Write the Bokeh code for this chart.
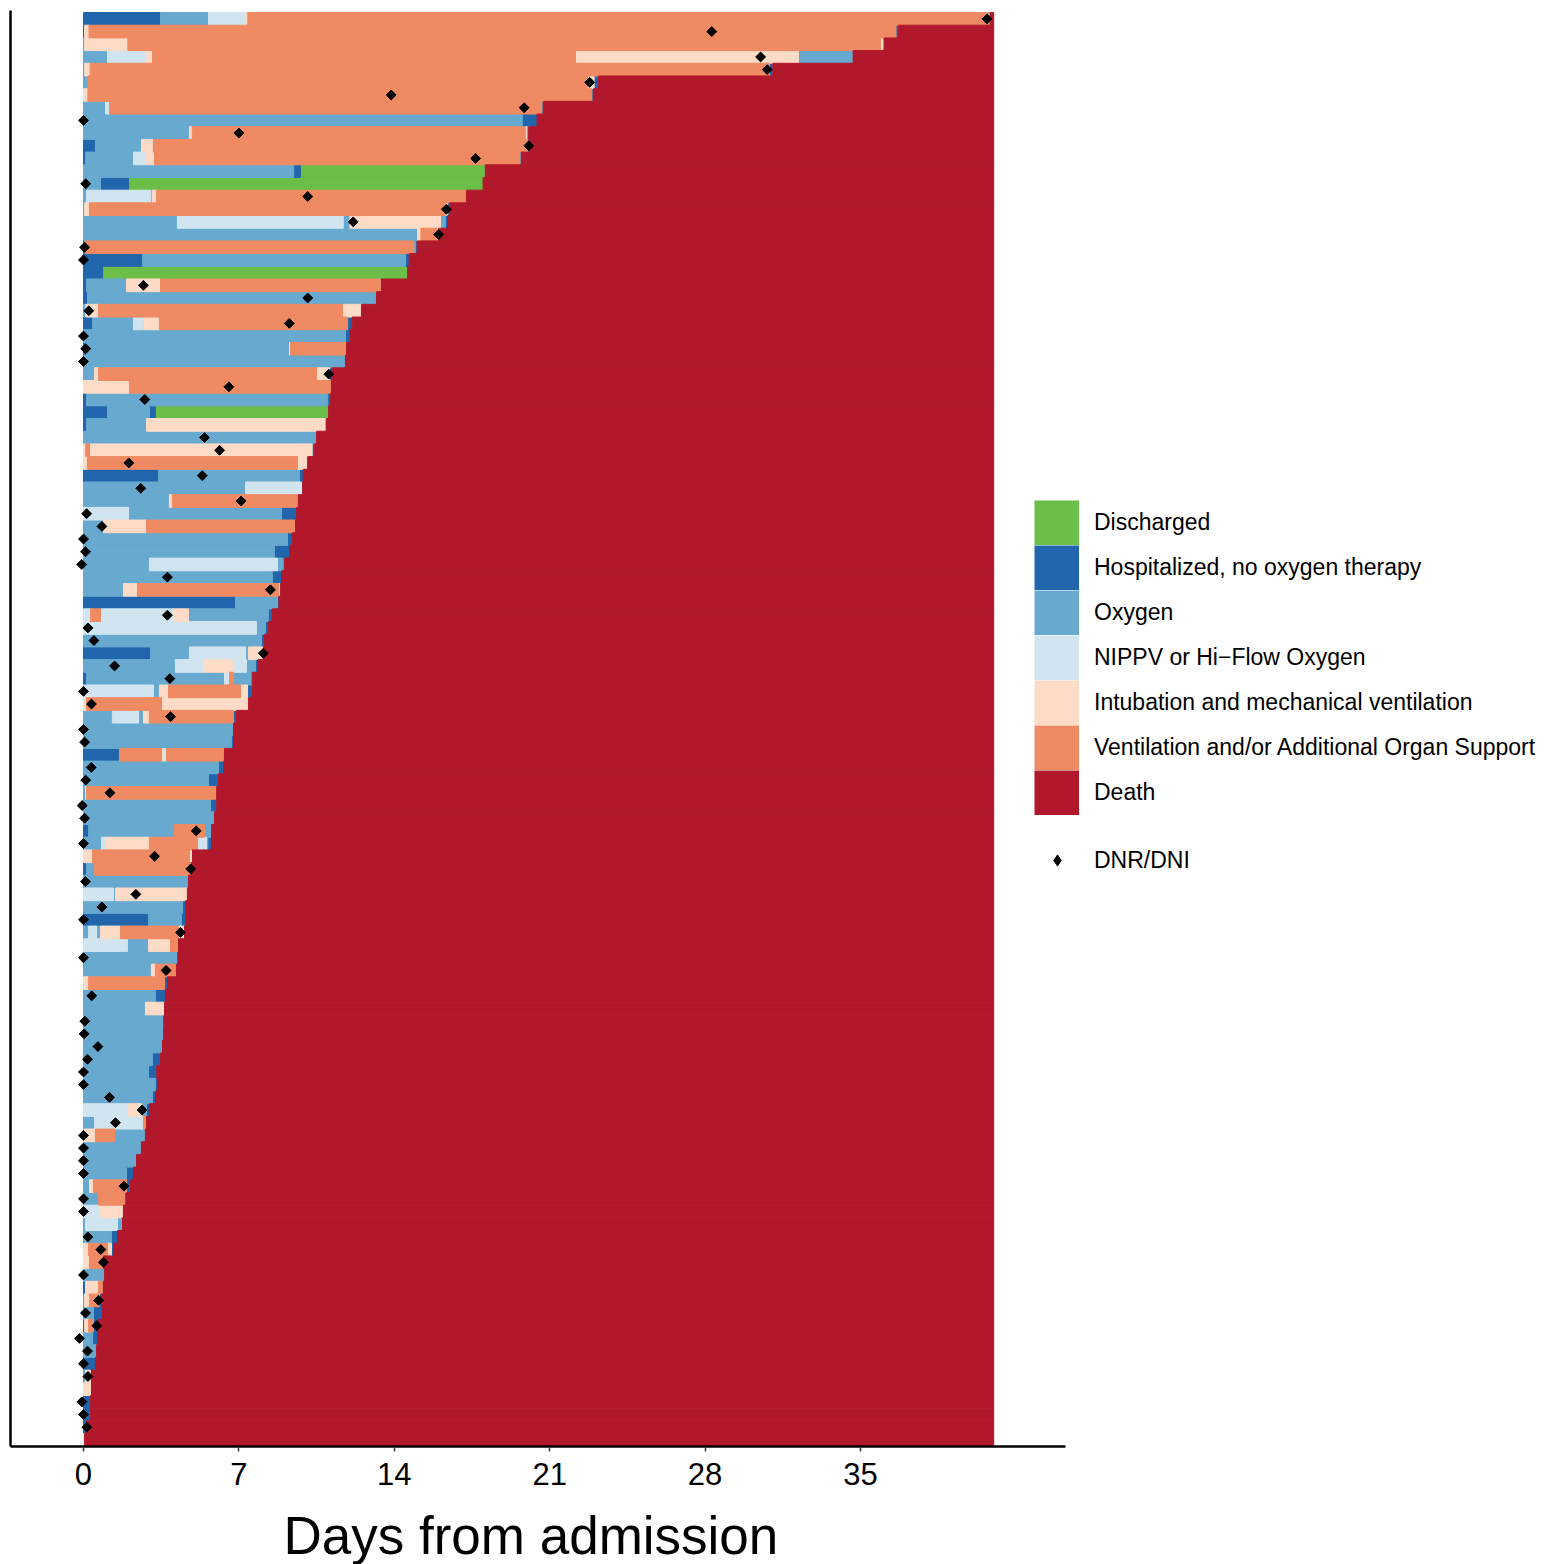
import math
from bokeh.plotting import figure
from bokeh.models import (Range1d, FixedTicker, Legend, LegendItem, ColumnDataSource, Title,
                          LinearAxis)
from bokeh.embed import file_html
from bokeh.resources import INLINE

FONT = "Liberation Sans"

# ---------------- data ----------------
STATE_CODES = ["D", "H", "O", "N", "I", "V", "X"]
STATE_LABELS = ["Discharged", "Hospitalized, no oxygen therapy", "Oxygen",
                "NIPPV or Hi\u2212Flow Oxygen", "Intubation and mechanical ventilation",
                "Ventilation and/or Additional Organ Support", "Death"]
STATE_COLORS = ["#6BBE47", "#2166AC", "#67A9CF", "#D1E5F0", "#FDDBC7", "#EF8A62", "#B2182B"]

FOLLOW_UP_END = 41.0
TICKS = [0, 7, 14, 21, 28, 35]

# state sequence of each patient (top to bottom); death follows last state until follow-up end
row_states = [
    "HONIVO", "HIVH", "OIVIO", "ONIVIO", "OIVH", "OVIH", "IVH", "ONVH", "OH", "OIVIO",
    "HOIVO", "HONIVO", "OHD", "OHD", "ONOIV", "OIVIH", "ONOIOH", "OIVI", "HVOH", "HOH",
    "HD", "HOIVH", "HOH", "OIVI", "HONOIVH", "OH", "HOIV", "OH", "OIVIH", "IV",
    "HOH", "HOHD", "HOI", "O", "IVIH", "IVIO", "HOH", "ONH", "OIV", "NOH",
    "OIV", "OH", "OH", "ONOH", "OH", "OIVI", "HOH", "NVNIOH", "NOH", "OH",
    "HONOIH", "ONINOH", "HONVO", "NOIVIH", "IVI", "ONOIVH", "OH", "OH", "HVINV", "OH",
    "OH", "ONV", "OH", "O", "HOVO", "ONIVNOH", "IVI", "HOV", "OH", "NOI",
    "OH", "HOH", "ONOIVI", "NOIV", "OH", "OIVH", "IVH", "OH", "OI", "OH",
    "OH", "O", "OH", "OH", "OH", "OH", "NIOH", "ONV", "IVO", "O",
    "O", "OH", "OIVH", "OVH", "NIH", "ONOV", "OH", "IVIH", "IV", "O",
    "HIVH", "OIVH", "OH", "HIVH", "OH", "O", "H", "OIH", "I", "H",
    "H", "H", "I",
]
# day at which each of those states ends
row_ends = [
    [3.47, 5.63, 7.30, 7.4, 40.75, 40.85], [0.05, 0.25, 36.6, 36.7], [0.05, 2.0, 35.9, 36.0, 36.07],
    [1.08, 2.84, 3.11, 22.16, 32.2, 34.67], [0.05, 0.3, 30.9, 31.05], [0.2, 22.7, 23.0, 23.2],
    [0.2, 22.9, 22.97], [0.99, 1.17, 20.65, 20.73], [19.76, 20.43], [4.77, 4.9, 19.9, 19.95, 20.05],
    [0.54, 2.61, 3.15, 20.0, 20.07], [0.1, 2.25, 2.81, 3.2, 19.65, 19.72], [9.47, 9.77, 18.1],
    [0.77, 2.03, 18.0], [0.14, 3.03, 3.1, 3.29, 17.25], [0.05, 0.27, 16.3, 16.4, 16.5],
    [4.23, 11.7, 12.0, 16.08, 16.3, 16.4], [15.05, 15.2, 15.93, 16.0], [0.07, 14.88, 14.95, 15.03],
    [2.66, 14.5, 14.67],
    [0.86, 14.6], [0.14, 1.94, 3.47, 13.38, 13.43], [0.18, 13.15, 13.2], [0.1, 0.68, 11.67, 12.52],
    [0.41, 2.25, 2.7, 2.75, 3.42, 11.9, 12.1], [11.8, 12.0], [0.1, 9.28, 9.33, 11.85], [11.76, 11.8],
    [0.5, 0.68, 10.5, 11.08, 11.2], [2.07, 11.17],
    [0.14, 11.0, 11.13], [1.08, 2.97, 3.24, 11.04], [0.14, 2.84, 10.93], [10.5], [0.1, 0.27, 10.3, 10.4],
    [0.18, 9.64, 10.05, 10.1], [3.38, 9.73, 9.9], [7.3, 9.82, 9.87], [3.87, 4.0, 9.68], [2.03, 8.92, 9.6],
    [0.9, 2.84, 9.55], [9.19, 9.41], [8.6, 9.28], [2.97, 8.74, 9.0, 9.05], [8.51, 8.92],
    [1.8, 2.43, 8.78, 8.87], [6.85, 8.74, 8.8], [0.32, 0.77, 4.1, 4.73, 8.33, 8.51], [7.79, 8.2, 8.33],
    [8.02, 8.15],
    [3.02, 4.77, 7.3, 7.43, 8.06, 8.15], [4.14, 5.41, 6.71, 7.34, 7.75, 7.85], [0.14, 6.35, 6.58, 6.76, 7.6],
    [3.15, 3.42, 3.83, 7.07, 7.39, 7.61], [0.14, 3.51, 7.43], [1.3, 2.48, 2.7, 2.97, 6.76, 6.89],
    [6.71, 6.76], [6.67, 6.76], [1.62, 3.51, 3.6, 3.74, 6.35], [6.08, 6.31],
    [5.63, 6.08], [0.09, 0.14, 6.0], [5.72, 6.0], [5.9], [0.23, 4.1, 5.45, 5.77],
    [0.81, 1.04, 2.97, 5.14, 5.54, 5.6, 5.77], [0.41, 4.77, 4.91], [0.14, 0.5, 4.86], [4.68, 4.73],
    [1.35, 1.44, 4.68],
    [4.46, 4.6], [2.93, 4.41, 4.6], [0.23, 0.59, 0.77, 1.67, 4.28, 4.55], [1.98, 2.93, 3.92, 4.28],
    [4.19, 4.28], [3.06, 3.24, 4.14, 4.19], [0.23, 3.65, 3.78], [3.24, 3.69], [2.79, 3.65], [3.56, 3.65],
    [3.56, 3.62], [3.56], [3.11, 3.47], [2.93, 3.3], [3.24, 3.33], [3.11, 3.24], [2.03, 2.61, 2.84, 2.97],
    [0.5, 2.7, 2.84], [0.54, 1.4, 2.79], [2.61],
    [2.39], [1.94, 2.25], [0.27, 0.45, 1.94, 2.12], [0.68, 1.85, 1.94], [0.77, 1.76, 1.8],
    [0.09, 1.53, 1.71, 1.76], [1.26, 1.53], [0.23, 1.08, 1.26, 1.35], [0.27, 0.9], [0.95],
    [0.09, 0.68, 0.86, 0.9], [0.05, 0.27, 0.72, 0.81], [0.45, 0.86], [0.05, 0.23, 0.45, 0.63],
    [0.41, 0.63], [0.59], [0.54], [0.09, 0.32, 0.36], [0.36], [0.32],
    [0.32], [0.14], [0.05],
]

# DNR/DNI order: patient row (1 = top) and day
dnr_rows = [1, 2, 4, 5, 6, 7, 8, 9, 10, 11, 12, 14, 15, 16, 17, 18, 19, 20, 22, 23, 24, 25, 26, 27, 28,
            29, 30, 31, 34, 35, 36, 37, 38, 39, 40, 41, 42, 43, 44, 45, 46, 48, 49, 50, 51, 52, 53, 54,
            55, 56, 57, 58, 60, 61, 62, 63, 64, 65, 66, 67, 68, 69, 70, 71, 72, 73, 75, 76, 78, 80, 81,
            82, 83, 84, 85, 86, 87, 88, 89, 90, 91, 92, 93, 94, 95, 97, 98, 99, 100, 102, 103, 104,
            105, 106, 107, 108, 110, 111, 112]
dnr_days = [40.7, 28.3, 30.5, 30.8, 22.8, 13.86, 19.85, 0.0, 7.0, 20.06, 17.66, 0.1, 10.1, 16.35, 12.15,
            16.0, 0.05, 0.0, 2.7, 10.1, 0.24, 9.27, 0.0, 0.1, 0.0,
            11.05, 6.55, 2.76, 5.45, 6.13, 2.04, 5.35, 2.58, 7.1, 0.14, 0.83, 0.0, 0.09, -0.08, 3.78, 8.42,
            3.78, 0.2, 0.47, 8.1, 1.4, 3.89, 0.0,
            0.36, 3.92, 0.0, 0.05, 0.35, 0.1, 1.19, -0.06, 0.05, 5.08, 0.0, 3.2, 4.83, 0.09, 2.36, 0.83,
            0.0, 4.37, 0.0, 3.72, 0.37, 0.06, 0.03,
            0.65, 0.18, 0.0, 0.0, 1.17, 2.64, 1.44, 0.0, 0.0, 0.0, 0.0, 1.82, 0.0, 0.0, 0.2, 0.78, 0.9,
            0.0, 0.68, 0.09, 0.6,
            -0.18, 0.18, 0.0, 0.2, -0.07, 0.0, 0.15]

# ---------------- build segments ----------------
N_ROWS = len(row_states)
seg = {c: dict(left=[], right=[], top=[], bottom=[]) for c in STATE_CODES}
for i, (codes, ends) in enumerate(zip(row_states, row_ends)):
    start = 0.0
    for c, e in zip(codes, ends):
        d = seg[c]
        d["left"].append(start); d["right"].append(e)
        d["top"].append(i - 0.5); d["bottom"].append(i + 0.5)
        start = e
    d = seg["X"]
    d["left"].append(start); d["right"].append(FOLLOW_UP_END)
    d["top"].append(i - 0.5); d["bottom"].append(i + 0.5)

X_START, X_AXIS_END, X_END = -3.288, 44.234, 65.9

p = figure(width=1546, height=1564,
           x_range=Range1d(X_START, X_END),
           y_range=Range1d(N_ROWS - 0.48, -0.66),
           output_backend="svg", toolbar_location=None,
           min_border_left=10, min_border_top=10, min_border_right=0, min_border_bottom=0)
p.grid.visible = False
p.outline_line_color = None

legend_items = []
for c, lab, col in zip(STATE_CODES, STATE_LABELS, STATE_COLORS):
    src = ColumnDataSource(seg[c])
    p.quad(left="left", right="right", top="top", bottom="bottom",
           source=src, fill_color=col, line_color=col, line_width=1)
    # hidden companion used only for the square legend key
    key = p.line(x="left", y="top", source=src, line_color=col, line_width=45, visible=False)
    legend_items.append(LegendItem(label=lab, renderers=[key]))

dnr_src = ColumnDataSource(dict(x=dnr_days, y=[r - 1 for r in dnr_rows]))
p.scatter(x="x", y="y", source=dnr_src, marker="square", angle=math.pi / 4, size=7,
          fill_color="black", line_color="black")
dnr_key = p.scatter(x="x", y="y", source=dnr_src, marker="diamond", size=11,
                    fill_color="black", line_color="black", visible=False)

# ---------------- legends ----------------
leg1 = Legend(items=legend_items, location=(1024, 631), orientation="vertical",
              glyph_width=45, glyph_height=45, spacing=0, padding=0, margin=0,
              label_standoff=15, label_height=45,
              label_text_font=FONT, label_text_font_size="23px", label_text_color="black",
              border_line_color=None, background_fill_alpha=0)
p.add_layout(leg1)

leg2 = Legend(items=[LegendItem(label="DNR/DNI", renderers=[dnr_key])], location=(1033, 572),
              glyph_width=28, glyph_height=28, spacing=0, padding=0, margin=0,
              label_standoff=23, label_height=28,
              label_text_font=FONT, label_text_font_size="23px", label_text_color="black",
              border_line_color=None, background_fill_alpha=0)
p.add_layout(leg2)

# ---------------- axes ----------------
xa = p.xaxis[0]
xa.ticker = FixedTicker(ticks=TICKS)
xa.bounds = (X_START, X_AXIS_END)
xa.major_label_text_font = FONT
xa.major_label_text_font_size = "31px"
xa.major_label_text_color = "black"
xa.major_label_standoff = 11
xa.major_tick_out = 5
xa.major_tick_in = 0
xa.minor_tick_out = 0
xa.minor_tick_in = 0
xa.major_tick_line_color = "#333333"
xa.major_tick_line_width = 1.5
xa.axis_line_color = "black"
xa.axis_line_width = 2.5

# invisible spacer between tick labels and the axis title
SPACER_TICK = 60
spacer = LinearAxis(ticker=FixedTicker(ticks=[SPACER_TICK]), major_label_overrides={SPACER_TICK: ""},
                    axis_line_color=None, major_tick_line_color=None,
                    major_tick_out=16, major_tick_in=0, minor_tick_out=0, minor_tick_in=0,
                    major_label_standoff=0, major_label_text_font_size="1px")
p.add_layout(spacer, "below")

p.add_layout(Title(text="Days from admission", align="left", offset=273, standoff=0,
                   text_font=FONT, text_font_size="53px", text_font_style="normal",
                   text_color="black"), "below")

ya = p.yaxis[0]
ya.ticker = FixedTicker(ticks=[])
ya.major_label_text_font_size = "0px"
ya.major_label_standoff = 0
ya.major_tick_out = 0
ya.major_tick_in = 0
ya.minor_tick_out = 0
ya.minor_tick_in = 0
ya.axis_line_color = "black"
ya.axis_line_width = 2.5

open("out.html", "w").write(file_html(p, INLINE))
